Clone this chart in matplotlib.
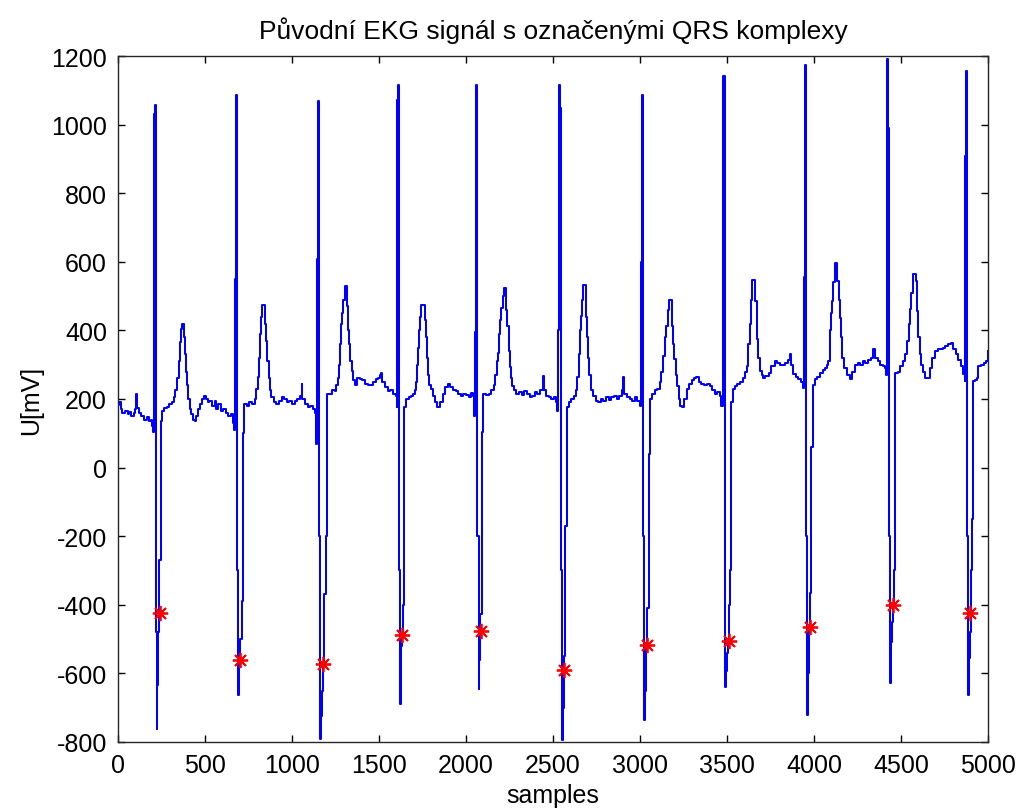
import numpy as np
import matplotlib.pyplot as plt

# =========================================================
# DATA
# (sample, U[mV]) vertices, one list per heart beat
# =========================================================

start_baseline = [(0, 183), (8, 190), (15, 170), (25, 160), (40, 165), (55, 155), (62, 163),
                  (75, 150), (90, 160), (100, 170), (105, 215), (112, 175), (120, 160),
                  (135, 150), (150, 140), (165, 148), (180, 135), (190, 140), (198, 120), (204, 105)]

beat_01 = [(208, 1032), (211, 1056), (217, 1040), (221, -480), (224, -763), (227, -634),
           (230, -480), (234, -420), (238, -270), (244, -270), (248, 137), (255, 165),
           (265, 175), (280, 178), (295, 185), (310, 190), (320, 205), (330, 225), (340, 260),
           (348, 310), (356, 365), (362, 405), (370, 418), (378, 380), (384, 330), (390, 280),
           (396, 240), (404, 200), (412, 170), (420, 155), (430, 140), (440, 135), (450, 150),
           (460, 170), (470, 185), (480, 200), (492, 210), (505, 200), (515, 190), (525, 195),
           (540, 180), (555, 195), (562, 170), (575, 185), (590, 165), (605, 170), (620, 160),
           (635, 150), (650, 155), (660, 130), (666, 110)]

beat_02 = [(672, 549), (676, 1085), (682, -300), (688, -664), (693, -600), (698, -550),
           (704, -500), (710, -390), (716, -390), (720, 100), (726, 185), (740, 180),
           (755, 190), (770, 185), (785, 200), (795, 230), (805, 265), (812, 320), (818, 390),
           (824, 440), (830, 474), (840, 474), (846, 420), (852, 370), (858, 310), (865, 260),
           (872, 225), (880, 205), (895, 190), (910, 185), (925, 195), (940, 205), (955, 200),
           (970, 190), (985, 195), (1000, 185), (1015, 195), (1030, 200), (1045, 210),
           (1055, 245), (1060, 200), (1075, 185), (1090, 178), (1105, 180), (1120, 170),
           (1132, 160), (1140, 70)]

beat_03 = [(1146, 608), (1150, 1068), (1157, -200), (1163, -792), (1168, -723), (1172, -650),
           (1178, -572), (1183, -370), (1190, -370), (1195, -200), (1200, 216), (1215, 216),
           (1230, 225), (1245, 222), (1255, 240), (1262, 260), (1268, 300), (1274, 360),
           (1280, 420), (1287, 451), (1295, 490), (1303, 529), (1312, 529), (1318, 470),
           (1324, 400), (1330, 359), (1336, 310), (1342, 281), (1350, 255), (1360, 242),
           (1375, 262), (1390, 258), (1405, 255), (1420, 245), (1435, 240), (1450, 242),
           (1465, 250), (1480, 258), (1495, 262), (1505, 270), (1513, 275), (1520, 250),
           (1535, 235), (1550, 222), (1565, 225), (1580, 216), (1595, 210), (1603, 176)]

beat_04 = [(1606, 1073), (1609, 1115), (1614, -300), (1619, -688), (1624, -579), (1628, -520),
           (1633, -489), (1637, -400), (1641, -200), (1645, 176), (1655, 200), (1670, 205),
           (1685, 210), (1695, 215), (1705, 225), (1712, 250), (1718, 300), (1724, 350),
           (1730, 400), (1737, 440), (1744, 474), (1755, 474), (1762, 430), (1768, 380),
           (1774, 320), (1780, 270), (1788, 240), (1797, 229), (1810, 210), (1822, 190),
           (1836, 176), (1850, 190), (1865, 215), (1880, 235), (1894, 244), (1910, 235),
           (1925, 225), (1940, 222), (1955, 215), (1970, 210), (1985, 215), (2000, 212),
           (2015, 205), (2030, 218), (2040, 210), (2048, 150)]

beat_05 = [(2052, 396), (2055, 484), (2058, 1115), (2065, -200), (2072, -646), (2077, -560),
           (2082, -427), (2088, -427), (2093, 105), (2100, 216), (2115, 212), (2130, 216),
           (2145, 225), (2158, 242), (2168, 270), (2176, 310), (2183, 333), (2190, 390),
           (2197, 430), (2203, 464), (2210, 500), (2218, 523), (2226, 523), (2232, 460),
           (2238, 412), (2245, 340), (2252, 294), (2258, 260), (2264, 239), (2275, 225),
           (2290, 215), (2305, 220), (2320, 212), (2335, 222), (2350, 215), (2365, 205),
           (2380, 210), (2395, 220), (2410, 215), (2425, 225), (2440, 268), (2446, 225),
           (2460, 210), (2475, 205), (2490, 200), (2505, 205), (2515, 190), (2524, 166)]

beat_06 = [(2531, 400), (2533, 1049), (2536, 1115), (2541, 1049), (2546, -300), (2552, -794),
           (2557, -700), (2562, -550), (2567, -550), (2571, -170), (2579, 176), (2590, 190),
           (2605, 200), (2618, 210), (2630, 225), (2640, 263), (2648, 330), (2654, 400),
           (2659, 443), (2665, 490), (2672, 532), (2682, 532), (2688, 440), (2694, 380),
           (2700, 320), (2706, 270), (2716, 225), (2730, 210), (2745, 195), (2760, 192),
           (2775, 200), (2790, 195), (2805, 205), (2820, 198), (2835, 205), (2850, 210),
           (2865, 200), (2880, 210), (2895, 225), (2904, 263), (2910, 215), (2925, 205),
           (2940, 200), (2955, 195), (2970, 205), (2985, 195), (3000, 180)]

beat_07 = [(3004, 438), (3008, 600), (3011, 1085), (3018, -200), (3024, -735), (3029, -650),
           (3034, -518), (3040, -410), (3046, -410), (3050, 39), (3058, 200), (3070, 216),
           (3085, 225), (3100, 230), (3112, 250), (3122, 280), (3132, 326), (3142, 380),
           (3152, 413), (3162, 460), (3168, 490), (3178, 490), (3184, 413), (3190, 360),
           (3196, 317), (3205, 270), (3212, 238), (3222, 200), (3232, 180), (3243, 177),
           (3255, 200), (3268, 229), (3282, 245), (3296, 255), (3310, 262), (3324, 264),
           (3338, 250), (3352, 245), (3368, 240), (3384, 245), (3400, 238), (3415, 225),
           (3430, 215), (3445, 220), (3458, 209), (3468, 180)]

beat_08 = [(3475, 686), (3479, 1143), (3486, -200), (3491, -640), (3496, -592), (3502, -540),
           (3508, -506), (3513, -400), (3518, -300), (3523, 190), (3535, 230), (3548, 238),
           (3560, 245), (3575, 250), (3590, 260), (3605, 280), (3615, 297), (3622, 360),
           (3630, 420), (3638, 490), (3644, 546), (3655, 546), (3662, 485), (3670, 374),
           (3680, 320), (3690, 282), (3700, 270), (3707, 262), (3720, 268), (3740, 275),
           (3755, 295), (3774, 311), (3790, 305), (3805, 300), (3820, 298), (3835, 305),
           (3850, 315), (3860, 330), (3868, 300), (3879, 272), (3895, 265), (3910, 258),
           (3925, 250), (3936, 233)]

beat_09 = [(3944, 556), (3948, 1173), (3955, -200), (3960, -722), (3964, -705), (3968, -600),
           (3972, -464), (3975, -365), (3980, -365), (3985, 60), (3993, 240), (4005, 257),
           (4020, 265), (4035, 275), (4050, 285), (4065, 290), (4075, 300), (4083, 311),
           (4090, 400), (4096, 450), (4102, 485), (4110, 540), (4118, 597), (4128, 597),
           (4134, 544), (4142, 490), (4148, 437), (4155, 380), (4162, 320), (4175, 290),
           (4190, 270), (4208, 257), (4220, 280), (4235, 300), (4250, 305), (4265, 300),
           (4280, 310), (4295, 305), (4310, 315), (4325, 320), (4339, 345), (4350, 320),
           (4365, 310), (4380, 300), (4395, 295), (4410, 291), (4416, 270)]

beat_10 = [(4419, 990), (4422, 1190), (4428, 990), (4432, -200), (4437, -627), (4442, -508),
           (4448, -450), (4454, -400), (4460, -300), (4466, 277), (4480, 280), (4495, 295),
           (4511, 311), (4525, 330), (4535, 370), (4545, 420), (4553, 461), (4560, 510),
           (4568, 563), (4580, 563), (4586, 544), (4592, 456), (4600, 380), (4607, 330),
           (4615, 300), (4625, 280), (4640, 262), (4654, 262), (4665, 290), (4680, 320),
           (4693, 340), (4710, 345), (4725, 345), (4740, 350), (4755, 355), (4770, 360),
           (4789, 364), (4800, 345), (4815, 330), (4830, 315), (4845, 295), (4856, 272),
           (4866, 252)]

beat_11 = [(4870, 907), (4873, 1156), (4880, -200), (4885, -664), (4890, -556), (4895, -480),
           (4900, -423), (4905, -300), (4910, -150), (4915, 252), (4925, 255), (4935, 260),
           (4943, 296), (4960, 300), (4975, 305), (4991, 311), (5000, 340)]

# detected QRS marks (red stars)
qrs_samples = [243, 704, 1178, 1633, 2087, 2564, 3038, 3509, 3977, 4454, 4898]
qrs_mv = [-425, -561, -572, -489, -477, -590, -518, -506, -464, -400, -423]

# =========================================================
# PLOT
# =========================================================

ecg = np.array(start_baseline + beat_01 + beat_02 + beat_03 + beat_04 + beat_05 +
               beat_06 + beat_07 + beat_08 + beat_09 + beat_10 + beat_11)

plt.rcParams['font.family'] = ['Liberation Sans', 'DejaVu Sans']
plt.rcParams['font.size'] = 18
plt.rcParams['axes.unicode_minus'] = False   # plain hyphen like the original

fig = plt.figure(figsize=(10.19, 8.12), dpi=100)
ax = fig.add_axes([0.1158, 0.085, 0.8538, 0.8448])

ax.plot(ecg[:, 0], ecg[:, 1], color='#0000ff', linewidth=1.45, drawstyle='steps-post')
ax.plot(qrs_samples, qrs_mv, linestyle='none', marker=(8, 2, 0), color='red',
        markersize=11, markeredgewidth=1.3)

ax.set_xlim(0, 5000)
ax.set_ylim(-800, 1200)
ax.set_xticks(np.arange(0, 5001, 500))
ax.set_yticks(np.arange(-800, 1201, 200))

ax.tick_params(direction='in', length=5, width=1, top=True, right=True,
               labelsize=18, pad=8)
for s in ax.spines.values():
    s.set_linewidth(1)
    s.set_color('#262626')

ax.set_title('Původní EKG signál s označenými QRS komplexy', fontsize=19, pad=13)
ax.set_xlabel('samples', fontsize=18, labelpad=4)
ax.set_ylabel('U[mV]', fontsize=18, labelpad=6)

fig.savefig('out.png', dpi=100)
